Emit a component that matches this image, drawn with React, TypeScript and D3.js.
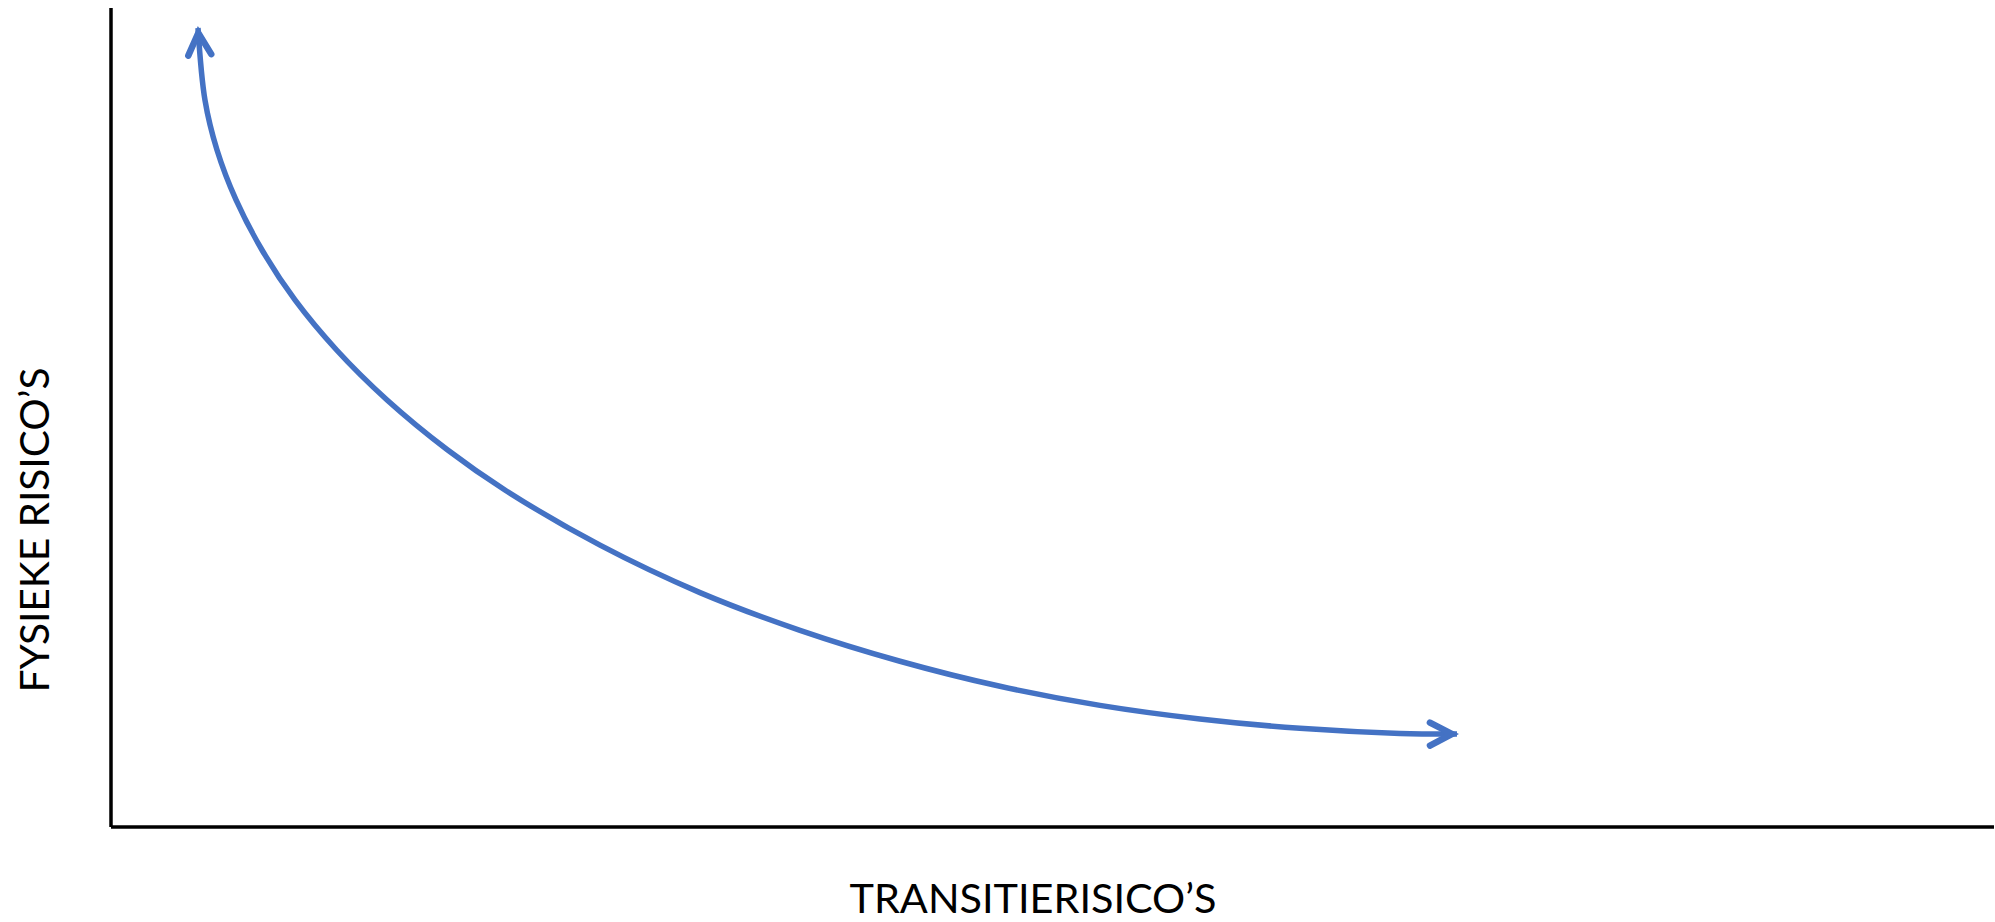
import React, { useEffect, useRef } from 'react'

import * as d3 from 'd3'

// Curve, in axis units (0-100 on both axes)
const curveX = [4.62, 4.99, 5.63, 6.64, 8.02, 9.77, 11.98, 14.66, 17.88, 20.92, 25.97, 31.28, 36.59, 41.9, 47.21, 52.52, 57.83, 63.14, 68.46, 71.48]
const curveY = [97.56, 88.77, 82.66, 76.56, 70.45, 64.35, 58.24, 52.14, 46.03, 41.15, 34.41, 28.62, 24.01, 20.24, 17.18, 14.85, 13.19, 12.05, 11.43, 11.36]

const xLabel = 'TRANSITIERISICO’S'
const yLabel = 'FYSIEKE RISICO’S'

const App: React.FC = () => {
  const chartRef = useRef<SVGSVGElement | null>(null)

  useEffect(() => {
    const width = 1995
    const height = 922
    const margin = { top: 8, right: 1, bottom: 95, left: 111 }

    const svg = d3
      .select(chartRef.current)
      .attr('width', width)
      .attr('height', height)
    svg.selectAll('*').remove()

    const x = d3.scaleLinear().domain([0, 100]).range([margin.left, width - margin.right])
    const y = d3.scaleLinear().domain([0, 100]).range([height - margin.bottom, margin.top])

    const blue = '#4472C4'

    // Open chevron arrowhead
    const defs = svg.append('defs')
    defs
      .append('marker')
      .attr('id', 'chevron')
      .attr('markerUnits', 'userSpaceOnUse')
      .attr('viewBox', '-40 -20 50 40')
      .attr('markerWidth', 50)
      .attr('markerHeight', 40)
      .attr('refX', 0)
      .attr('refY', 0)
      .attr('orient', 'auto-start-reverse')
      .append('path')
      .attr('d', 'M -27 -11.5 L -5 0 L -27 11.5')
      .attr('fill', 'none')
      .attr('stroke', blue)
      .attr('stroke-width', 6.5)
      .attr('stroke-linecap', 'round')
      .attr('stroke-linejoin', 'miter')

    // Axes
    svg
      .append('line')
      .attr('x1', x(0))
      .attr('x2', x(0))
      .attr('y1', y(100))
      .attr('y2', y(0))
      .attr('stroke', '#000')
      .attr('stroke-width', 3.5)

    svg
      .append('line')
      .attr('x1', x(0))
      .attr('x2', x(100))
      .attr('y1', y(0))
      .attr('y2', y(0))
      .attr('stroke', '#000')
      .attr('stroke-width', 3.5)

    // Curve
    const points: [number, number][] = curveX.map((d, i) => [d, curveY[i]])
    const line = d3
      .line<[number, number]>()
      .x((d) => x(d[0]))
      .y((d) => y(d[1]))
      .curve(d3.curveCatmullRom.alpha(0.5))

    svg
      .append('path')
      .datum(points)
      .attr('d', line)
      .attr('fill', 'none')
      .attr('stroke', blue)
      .attr('stroke-width', 5.5)
      .attr('marker-start', 'url(#chevron)')
      .attr('marker-end', 'url(#chevron)')

    // Labels
    svg
      .append('text')
      .attr('x', 1033)
      .attr('y', 913)
      .attr('text-anchor', 'middle')
      .attr('font-family', 'Lato, sans-serif')
      .attr('font-size', 40)
      .attr('textLength', 367)
      .attr('lengthAdjust', 'spacingAndGlyphs')
      .attr('fill', '#000')
      .text(xLabel)

    svg
      .append('text')
      .attr('transform', `translate(49,${530}) rotate(-90)`)
      .attr('text-anchor', 'middle')
      .attr('font-family', 'Lato, sans-serif')
      .attr('font-size', 40)
      .attr('textLength', 325)
      .attr('lengthAdjust', 'spacingAndGlyphs')
      .attr('fill', '#000')
      .text(yLabel)
  }, [])

  return (
    <svg
      ref={chartRef}
      style={{ position: 'absolute', left: 0, top: 0, background: '#fff' }}
    ></svg>
  )
}

export default App
